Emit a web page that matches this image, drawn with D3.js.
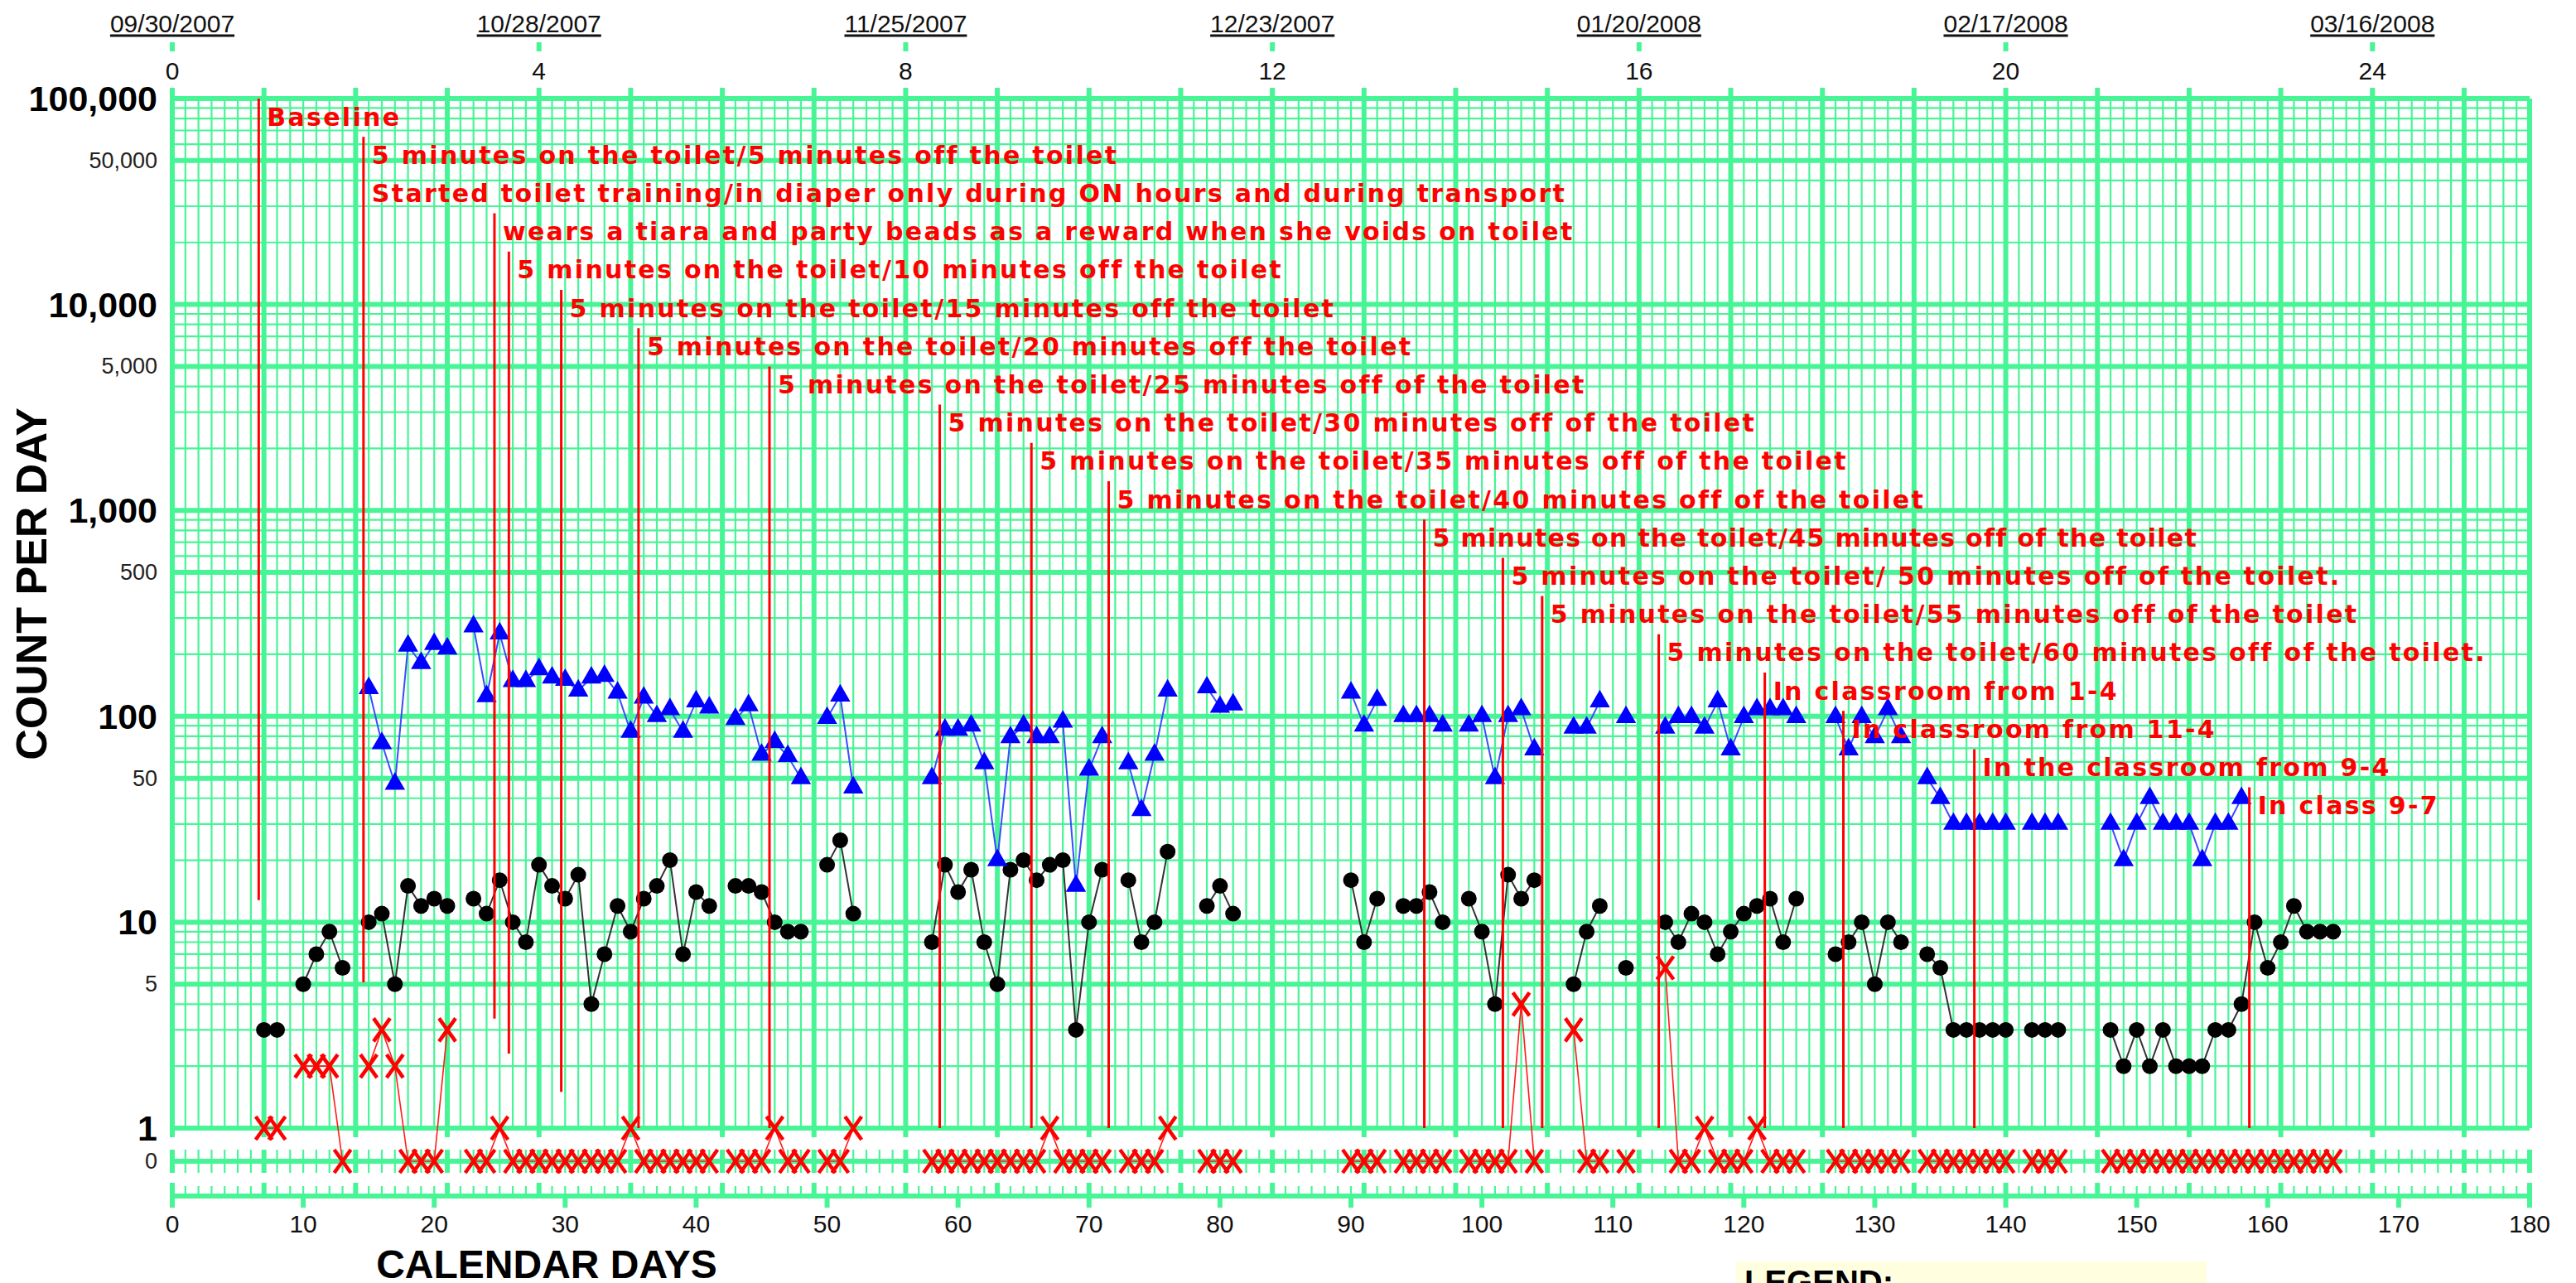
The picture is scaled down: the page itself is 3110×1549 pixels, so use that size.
<!DOCTYPE html>
<html>
<head>
<meta charset="utf-8">
<title>Celeration chart</title>
<script src="https://cdnjs.cloudflare.com/ajax/libs/d3/7.8.5/d3.min.js"></script>
<style>
    body { margin: 0; background: #fff; }
    #chart-area { width: 3110px; height: 1549px; overflow: hidden; }
</style>
</head>
<body>
<div id="chart-area"></div>
<script>

// calendar days that have a record (gaps = no data)
var days = [
    7, 8,
    10, 11, 12, 13,
    15, 16, 17, 18, 19, 20, 21,
    23, 24, 25, 26, 27, 28, 29, 30, 31, 32, 33, 34, 35, 36, 37, 38, 39, 40, 41,
    43, 44, 45, 46, 47, 48,
    50, 51, 52,
    58, 59, 60, 61, 62, 63, 64, 65, 66, 67, 68, 69, 70, 71,
    73, 74, 75, 76,
    79, 80, 81,
    90, 91, 92,
    94, 95, 96, 97,
    99, 100, 101, 102, 103, 104,
    107, 108, 109,
    111,
    114, 115, 116, 117, 118, 119, 120, 121, 122, 123, 124,
    127, 128, 129, 130, 131, 132,
    134, 135, 136, 137, 138, 139, 140,
    142, 143, 144,
    148, 149, 150, 151, 152, 153, 154, 155, 156, 157, 158, 159, 160, 161, 162, 163, 164, 165
];

// blue triangles
var triangleCounts = [
    null, null,
    null, null, null, null,
    137, 74, 47, 220, 181, 224, 213,
    273, 125, 252, 148, 148, 169, 154, 150, 133, 154, 157, 130, 84, 123, 100, 108, 84, 118, 110,
    97, 113, 65, 75, 64, 50,
    98, 126, 45,
    50, 86, 86, 90, 59, 20, 79, 90, 79, 79, 94, 15, 55, 79,
    59, 35, 65, 133,
    138, 111, 114,
    130, 90, 120,
    100, 100, 100, 90,
    90, 100, 50, 100, 108, 69,
    88, 88, 118,
    99,
    88, 99, 99, 88, 118, 69, 99, 108, 108, 108, 99,
    99, 69, 99, 79, 108, 79,
    50, 40, 30, 30, 30, 30, 30,
    30, 30, 30,
    30, 20, 30, 40, 30, 30, 30, 20, 30, 30, 40, null, null, null, null, null, null, null
];

// black dots
var dotCounts = [
    3, 3,
    5, 7, 9, 6,
    10, 11, 5, 15, 12, 13, 12,
    13, 11, 16, 10, 8, 19, 15, 13, 17, 4, 7, 12, 9, 13, 15, 20, 7, 14, 12,
    15, 15, 14, 10, 9, 9,
    19, 25, 11,
    8, 19, 14, 18, 8, 5, 18, 20, 16, 19, 20, 3, 10, 18,
    16, 8, 10, 22,
    12, 15, 11,
    16, 8, 13,
    12, 12, 14, 10,
    13, 9, 4, 17, 13, 16,
    5, 9, 12,
    6,
    10, 8, 11, 10, 7, 9, 11, 12, 13, 8, 13,
    7, 8, 10, 5, 10, 8,
    7, 6, 3, 3, 3, 3, 3,
    3, 3, 3,
    3, 2, 3, 2, 3, 2, 2, 2, 3, 3, 4, 10, 6, 8, 12, 9, 9, 9
];

// red X's (0 goes on the zero row)
var xCounts = [
    1, 1,
    2, 2, 2, 0,
    2, 3, 2, 0, 0, 0, 3,
    0, 0, 1, 0, 0, 0, 0, 0, 0, 0, 0, 0, 1, 0, 0, 0, 0, 0, 0,
    0, 0, 0, 1, 0, 0,
    0, 0, 1,
    0, 0, 0, 0, 0, 0, 0, 0, 0, 1, 0, 0, 0, 0,
    0, 0, 0, 1,
    0, 0, 0,
    0, 0, 0,
    0, 0, 0, 0,
    0, 0, 0, 0, 4, 0,
    3, 0, 0,
    0,
    6, 0, 0, 1, 0, 0, 0, 1, 0, 0, 0,
    0, 0, 0, 0, 0, 0,
    0, 0, 0, 0, 0, 0, 0,
    0, 0, 0,
    0, 0, 0, 0, 0, 0, 0, 0, 0, 0, 0, 0, 0, 0, 0, 0, 0, 0
];

// phase change lines
var phaseLabels = [
    "Baseline",
    "5 minutes on the toilet/5 minutes off the toilet",
    "Started toilet training/in diaper only during ON hours and during transport",
    "wears a tiara and party beads as a reward when she voids on toilet",
    "5 minutes on the toilet/10 minutes off the toilet",
    "5 minutes on the toilet/15 minutes off the toilet",
    "5 minutes on the toilet/20 minutes off the toilet",
    "5 minutes on the toilet/25 minutes off of the toilet",
    "5 minutes on the toilet/30 minutes off of the toilet",
    "5 minutes on the toilet/35 minutes off of the toilet",
    "5 minutes on the toilet/40 minutes off of the toilet",
    "5 minutes on the toilet/45 minutes off of the toilet",
    "5 minutes on the toilet/ 50 minutes off of the toilet.",
    "5 minutes on the toilet/55 minutes off of the toilet",
    "5 minutes on the toilet/60 minutes off of the toilet.",
    "In classroom from 1-4",
    "In classroom from 11-4",
    "In the classroom from 9-4",
    "In class 9-7"
];
var phaseDays = [6.6, 14.6, 14.6, 24.6, 25.7, 29.7, 35.6, 45.6, 58.6, 65.6, 71.5,
    95.6, 101.6, 104.6, 113.5, 121.6, 127.6, 137.6, 158.6];
// count at which each phase line stops (null = label shares the line above)
var phaseLineEnds = [12.8, 5.1, null, 3.4, 2.3, 1.5, 1, 1, 1, 1, 1, 1, 1, 1, 1, 1, 1, 1, 1];

// axes
var weekTicks = [0, 4, 8, 12, 16, 20, 24];
var weekDates = ["09/30/2007", "10/28/2007", "11/25/2007", "12/23/2007", "01/20/2008", "02/17/2008", "03/16/2008"];
var countTicks = [100000, 50000, 10000, 5000, 1000, 500, 100, 50, 10, 5, 1];
var dayTicks = [0, 10, 20, 30, 40, 50, 60, 70, 80, 90, 100, 110, 120, 130, 140, 150, 160, 170, 180];


CelerationChart = function(_parentElement){
    this.parentElement = _parentElement;

    this.initVis();
}


/*
 * Initialize visualization (grid, axes, labels)
 */

CelerationChart.prototype.initVis = function(){
    var vis = this;

    vis.width = 3110;
    vis.height = 1549;
    vis.green = "#47f596";

    vis.svg = d3.select("#" + vis.parentElement).append("svg")
        .attr("width", vis.width)
        .attr("height", vis.height)
        .style("background", "#fff");

    vis.x = d3.scaleLinear().domain([0, 180]).range([208, 3054]);
    vis.y = d3.scaleLog().domain([1, 100000]).range([1362, 119]);
    vis.zeroY = 1402;
    vis.axisY = 1444;

    vis.yPos = function(v) { return v === 0 ? vis.zeroY : vis.y(v); };

    vis.drawGrid();
    vis.drawAxes();
    vis.wrangleData();
}


CelerationChart.prototype.drawGrid = function(){
    var vis = this;
    var grid = vis.svg.append("g").attr("class", "grid");
    var allDays = d3.range(0, 181);
    var weekDays = allDays.filter(function(d) { return d % 7 === 0; });
    var x0 = vis.x(0), x1 = vis.x(180);

    // horizontal log lines 1..9 per decade
    var gridCounts = [];
    [1, 10, 100, 1000, 10000].forEach(function(p) {
        d3.range(1, 10).forEach(function(m) { gridCounts.push({v: m * p, m: m}); });
    });
    gridCounts.push({v: 100000, m: 1});

    grid.selectAll(".hline").data(gridCounts).enter().append("line")
        .attr("class", "hline")
        .attr("x1", x0).attr("x2", x1)
        .attr("y1", function(d) { return vis.y(d.v); })
        .attr("y2", function(d) { return vis.y(d.v); })
        .attr("stroke", vis.green)
        .attr("stroke-width", function(d) { return (d.m === 1 || d.m === 5) ? 6 : 2.2; });

    grid.selectAll(".vline").data(allDays).enter().append("line")
        .attr("class", "vline")
        .attr("x1", function(d) { return vis.x(d); })
        .attr("x2", function(d) { return vis.x(d); })
        .attr("y1", vis.y(100000)).attr("y2", vis.y(1))
        .attr("stroke", vis.green)
        .attr("stroke-width", function(d) { return (d % 7 === 0 || d === 180) ? 6 : 2.2; });

    // week ticks above the top and under the 1 line
    grid.selectAll(".topTick").data(weekDays).enter().append("line")
        .attr("x1", function(d) { return vis.x(d); })
        .attr("x2", function(d) { return vis.x(d); })
        .attr("y1", 106).attr("y2", 119)
        .attr("stroke", vis.green).attr("stroke-width", 6);

    grid.selectAll(".monthTick").data(weekTicks).enter().append("line")
        .attr("x1", function(d) { return vis.x(d * 7); })
        .attr("x2", function(d) { return vis.x(d * 7); })
        .attr("y1", 51).attr("y2", 62)
        .attr("stroke", vis.green).attr("stroke-width", 6);

    grid.selectAll(".oneTick").data(weekDays).enter().append("line")
        .attr("x1", function(d) { return vis.x(d); })
        .attr("x2", function(d) { return vis.x(d); })
        .attr("y1", vis.y(1)).attr("y2", vis.y(1) + 11)
        .attr("stroke", vis.green).attr("stroke-width", 6);

    // zero row
    grid.append("line")
        .attr("x1", x0).attr("x2", x1)
        .attr("y1", vis.zeroY).attr("y2", vis.zeroY)
        .attr("stroke", vis.green).attr("stroke-width", 6);

    grid.selectAll(".zeroTick").data(allDays).enter().append("line")
        .attr("x1", function(d) { return vis.x(d); })
        .attr("x2", function(d) { return vis.x(d); })
        .attr("y1", vis.zeroY - 14).attr("y2", vis.zeroY + 14)
        .attr("stroke", vis.green)
        .attr("stroke-width", function(d) { return (d % 7 === 0 || d === 180) ? 6 : 2.2; });

    // bottom day axis
    grid.append("line")
        .attr("x1", x0).attr("x2", x1)
        .attr("y1", vis.axisY).attr("y2", vis.axisY)
        .attr("stroke", vis.green).attr("stroke-width", 6);

    grid.selectAll(".axisTick").data(allDays).enter().append("line")
        .attr("x1", function(d) { return vis.x(d); })
        .attr("x2", function(d) { return vis.x(d); })
        .attr("y1", function(d) { return (d % 7 === 0 || d === 180) ? vis.axisY - 16 : vis.axisY - 12; })
        .attr("y2", vis.axisY)
        .attr("stroke", vis.green)
        .attr("stroke-width", function(d) { return (d % 7 === 0 || d === 180) ? 6 : 2.2; });

    grid.selectAll(".tenTick").data(dayTicks).enter().append("line")
        .attr("x1", function(d) { return vis.x(d); })
        .attr("x2", function(d) { return vis.x(d); })
        .attr("y1", vis.axisY).attr("y2", vis.axisY + 14)
        .attr("stroke", vis.green).attr("stroke-width", 6);
}


CelerationChart.prototype.drawAxes = function(){
    var vis = this;
    var labels = vis.svg.append("g").attr("class", "labels")
        .style("font-family", "'Liberation Sans', Arial, sans-serif");
    var fmt = d3.format(",");

    // count axis
    labels.selectAll(".countLabel").data(countTicks).enter().append("text")
        .attr("x", 190)
        .attr("y", function(d) { return vis.y(d); })
        .attr("text-anchor", "end")
        .attr("dominant-baseline", "central")
        .style("font-weight", function(d) { return String(d)[0] === "1" ? "bold" : "normal"; })
        .style("font-size", function(d) { return String(d)[0] === "1" ? "43px" : "27px"; })
        .attr("fill", function(d) { return String(d)[0] === "1" ? "#000" : "#222"; })
        .text(function(d) { return fmt(d); });

    labels.append("text")
        .attr("x", 190).attr("y", vis.zeroY)
        .attr("text-anchor", "end").attr("dominant-baseline", "central")
        .style("font-size", "27px").attr("fill", "#222")
        .text("0");

    // day axis
    labels.selectAll(".dayLabel").data(dayTicks).enter().append("text")
        .attr("x", function(d) { return vis.x(d); })
        .attr("y", 1477)
        .attr("text-anchor", "middle").attr("dominant-baseline", "central")
        .style("font-size", "30px").attr("fill", "#111")
        .text(function(d) { return d; });

    // weeks and dates on top
    labels.selectAll(".weekLabel").data(weekTicks).enter().append("text")
        .attr("x", function(d) { return vis.x(d * 7); })
        .attr("y", 85)
        .attr("text-anchor", "middle").attr("dominant-baseline", "central")
        .style("font-size", "30px").attr("fill", "#111")
        .text(function(d) { return d; });

    var dates = labels.selectAll(".dateLabel").data(weekDates).enter().append("text")
        .attr("x", function(d, i) { return vis.x(weekTicks[i] * 7); })
        .attr("y", 28)
        .attr("text-anchor", "middle").attr("dominant-baseline", "central")
        .style("font-size", "30px").attr("fill", "#111")
        .text(function(d) { return d; });

    dates.each(function(d, i) {
        var w = this.getComputedTextLength();
        var cx = vis.x(weekTicks[i] * 7);
        labels.append("line")
            .attr("x1", cx - w / 2).attr("x2", cx + w / 2)
            .attr("y1", 43).attr("y2", 43)
            .attr("stroke", "#111").attr("stroke-width", 3);
    });

    // titles
    labels.append("text")
        .attr("transform", "translate(38,705) rotate(-90)")
        .attr("text-anchor", "middle").attr("dominant-baseline", "central")
        .style("font-weight", "bold").style("font-size", "52px")
        .text("COUNT PER DAY");

    labels.append("text")
        .attr("x", 660).attr("y", 1526)
        .attr("text-anchor", "middle").attr("dominant-baseline", "central")
        .style("font-weight", "bold").style("font-size", "48px")
        .text("CALENDAR DAYS");

    // legend (cut off at the bottom of the page)
    labels.append("rect")
        .attr("x", 2096).attr("y", 1523)
        .attr("width", 568).attr("height", 60)
        .attr("fill", "#ffffe0");

    labels.append("text")
        .attr("x", 2106).attr("y", 1562)
        .style("font-weight", "bold").style("font-size", "40px")
        .text("LEGEND:");
}


/*
 * Data wrangling: split each series where days are missing
 */

CelerationChart.prototype.wrangleData = function(){
    var vis = this;

    vis.segments = function(values) {
        var segs = [], cur = [];
        days.forEach(function(d, i) {
            var v = values[i];
            if (v === null) {
                if (cur.length) segs.push(cur);
                cur = [];
                return;
            }
            if (cur.length && d - cur[cur.length - 1].day > 1) {
                segs.push(cur);
                cur = [];
            }
            cur.push({day: d, value: v});
        });
        if (cur.length) segs.push(cur);
        return segs;
    };

    vis.triangleSegs = vis.segments(triangleCounts);
    vis.dotSegs = vis.segments(dotCounts);
    vis.xSegs = vis.segments(xCounts);

    vis.updateVis();
}


/*
 * The drawing function
 */

CelerationChart.prototype.updateVis = function(){
    var vis = this;

    var line = d3.line()
        .x(function(d) { return vis.x(d.day); })
        .y(function(d) { return vis.yPos(d.value); });

    // phase lines
    var rowY = function(i) { return 141 + i * 46.2; };
    var phases = vis.svg.append("g").attr("class", "phases");
    phaseLabels.forEach(function(label, i) {
        if (phaseLineEnds[i] === null) return;
        phases.append("line")
            .attr("x1", vis.x(phaseDays[i])).attr("x2", vis.x(phaseDays[i]))
            .attr("y1", rowY(i) - 22)
            .attr("y2", vis.y(phaseLineEnds[i]))
            .attr("stroke", "#ff0000").attr("stroke-width", 3);
    });

    var series = vis.svg.append("g").attr("class", "series");

    series.selectAll(".xLine").data(vis.xSegs).enter().append("path")
        .attr("d", line).attr("fill", "none")
        .attr("stroke", "#ff1a1a").attr("stroke-width", 1.6);

    series.selectAll(".dotLine").data(vis.dotSegs).enter().append("path")
        .attr("d", line).attr("fill", "none")
        .attr("stroke", "#333").attr("stroke-width", 2);

    series.selectAll(".triLine").data(vis.triangleSegs).enter().append("path")
        .attr("d", line).attr("fill", "none")
        .attr("stroke", "#3a4cff").attr("stroke-width", 2);

    var flat = function(segs) { return [].concat.apply([], segs); };

    series.selectAll(".xMark").data(flat(vis.xSegs)).enter().append("path")
        .attr("transform", function(d) { return "translate(" + vis.x(d.day) + "," + vis.yPos(d.value) + ")"; })
        .attr("d", "M-10,-14L10,14M-10,14L10,-14")
        .attr("stroke", "#ff0000").attr("stroke-width", 4.5).attr("fill", "none");

    series.selectAll(".dot").data(flat(vis.dotSegs)).enter().append("circle")
        .attr("cx", function(d) { return vis.x(d.day); })
        .attr("cy", function(d) { return vis.yPos(d.value); })
        .attr("r", 9.5)
        .attr("fill", "#000");

    series.selectAll(".tri").data(flat(vis.triangleSegs)).enter().append("path")
        .attr("transform", function(d) { return "translate(" + vis.x(d.day) + "," + vis.yPos(d.value) + ")"; })
        .attr("d", d3.symbol().type(d3.symbolTriangle).size(260))
        .attr("fill", "#0000ff");

    // phase labels (the 45-minute one is typed tighter on the original)
    phases.raise();
    phases.selectAll(".phaseLabel").data(phaseLabels).enter().append("text")
        .attr("x", function(d, i) { return vis.x(phaseDays[i]) + 10; })
        .attr("y", function(d, i) { return rowY(i); })
        .attr("dominant-baseline", "central")
        .style("font-family", "'DejaVu Sans', Verdana, sans-serif")
        .style("font-weight", "bold")
        .style("font-size", "30px")
        .style("letter-spacing", function(d, i) { return i === 11 ? "1.3px" : "2.3px"; })
        .attr("fill", "#ff0000")
        .text(function(d) { return d; });
}


var chart = new CelerationChart("chart-area");

</script>
</body>
</html>
